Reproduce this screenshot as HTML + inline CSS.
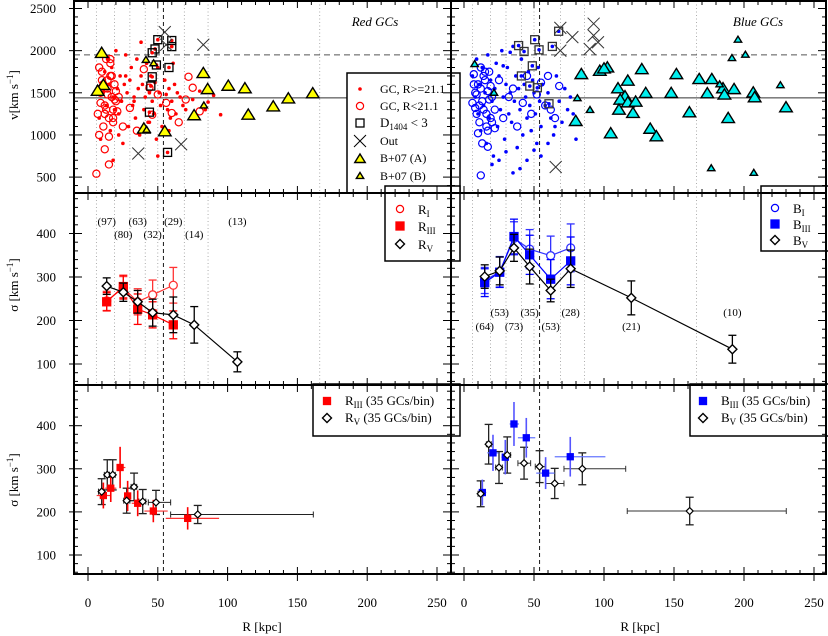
<!DOCTYPE html>
<html><head><meta charset="utf-8"><style>
html,body{margin:0;padding:0;background:#fff;}
svg{display:block;font-family:"Liberation Serif",serif;}
</style></head><body>
<svg id="chart" width="828" height="636" viewBox="0 0 828 636" xmlns="http://www.w3.org/2000/svg"></svg>
<script>
// ===== DATA =====
const binEdges=[6,19,30,41,50,69,86,166];
const vDashed=1950, vSolid=1440, rDashed=54;
// Row 1 red (R kpc, v km/s)
const redDotsR=[8,10,12,13,15,16,17,18,19,20,21,22,23,24,25,26,27,28,29,30,31,32,33,34,35,36,37,38,39,40,41,42,43,44,45,46,47,48,49,50,51,52,53,55,56,57,58,59,60,61,62,63,64,66,68,70,75,80,84,86,90,95,9,14,18,22,27,33,38,44,50,58];
const redDotsV=[1200,1500,1750,1350,1600,1050,1800,1450,1300,2000,1550,1250,1700,1400,900,1600,1950,1500,1100,1650,1800,1350,1450,1200,1900,1550,1000,1700,1600,1300,1450,1850,1150,1500,1700,1400,1250,1620,950,1800,1500,1350,1100,1650,1480,1300,1550,1200,1400,1850,1600,1250,1500,1450,1350,1300,1420,1520,1300,1390,1470,1240,950,1900,700,1000,1700,1400,2100,1150,750,1050];
const redCircR=[7,8,9,10,11,12,13,14,15,16,17,18,19,20,8,10,12,14,16,18,20,9,11,13,15,17,19,21,10,12,14,16,18,22,25,30,35,40,44,46,50,56,60,65,70,72,75,80,6,15];
const redCircV=[1250,1800,1500,1650,1100,1350,1900,1550,1200,1700,1450,1300,1600,1400,1000,1750,1250,1480,1850,1150,1520,1380,1600,1300,980,1700,1420,1280,1560,830,1650,1900,1200,1450,1100,1320,1050,1780,1560,1240,1480,1380,1260,1150,1420,1690,1560,1280,540,650];
const redSqR=[50,48,46,60,60,49,58,46,45,44,57];
const redSqV=[2130,2020,1975,2120,2048,1830,1800,1690,1580,1270,793];
const redXR=[55,82.6,36,66.7,56];
const redXV=[2220,2070,780,890,2070];
const yelAR=[9.8,11,6.9,82.6,85.7,100.5,112.4,143.5,161,132.7,114.8,76,55,40];
const yelAV=[1969,1590,1520,1730,1540,1580,1550,1430,1490,1335,1237,1230,1040,1072];
const yelBR=[41.5,47,83,42];
const yelBV=[1890,1850,1350,1060];
// Row 1 blue
const bluDotsR=[6,8,9,10,11,12,13,14,15,16,17,18,19,20,21,22,23,24,25,26,27,28,29,30,31,32,33,34,35,36,37,38,39,40,41,42,43,44,45,46,47,48,49,50,51,52,53,54,55,56,58,60,62,64,66,68,70,72,74,76,78,80,20,25,30,35,40,45,50,55,60,65,28,33];
const bluDotsV=[1700,1450,1900,1250,1600,1050,1800,1350,1500,900,1950,1200,1650,1400,750,1550,1850,1100,1700,1300,2000,1450,950,1600,1800,1250,1500,1150,2050,1400,1700,850,1550,1300,1900,1000,1600,1450,1200,1750,1350,1050,1650,1500,1250,900,1800,1400,1100,1600,1350,1500,1200,1000,1700,1400,1150,1550,1300,1450,1250,950,650,700,800,550,600,700,820,750,900,1100,1820,1980];
const bluCircR=[6,7,8,9,10,11,12,13,14,15,16,17,18,19,20,8,10,12,14,16,18,20,7,9,11,13,15,17,19,22,25,28,32,35,38,42,45,48,52,55,58,60,62,65,68,12,17,22];
const bluCircV=[1380,1720,1500,1250,1600,1150,1800,1400,1300,1650,1100,1520,1750,1200,1450,1320,1020,1550,1700,1250,1420,1150,1600,1480,1350,900,1750,1050,1580,1300,1650,1200,1450,1550,1100,1380,1700,1250,1480,1620,1350,1700,1300,1200,1580,520,860,1080];
const bluSqR=[50.5,67.6,39,42.9,53.6,63.1,48.8,41,47,52.4,60.7];
const bluSqV=[2130,2230,2060,1990,2010,2050,1820,1700,1580,1560,1370];
const bluXR=[68.8,77.4,92.6,92.6,95.7,89.8,68.8,65.5];
const bluXV=[2270,2160,2320,2180,2100,2020,2000,620];
const cyaAR=[83.8,97,102.4,100,127,151.7,168,177,110,117,115,111.6,117,122.6,129.8,148,173.8,185,192.9,186,206.6,207.6,230,110.7,120.7,161,188.7,79.8,104.8,133,137.4];
const cyaAV=[1718,1757,1797,1785,1777,1718,1659,1659,1550,1640,1455,1415,1383,1391,1494,1494,1490,1550,1540,1475,1500,1443,1324,1296,1257,1265,1197,1162,1016,1070,980];
const cyaBR=[7.6,21.4,81,90,195.7,191.4,201,182.6,226,176.6,207];
const cyaBV=[1840,1500,1435,1296,2130,1912,1952,1600,1590,605,550];
// Row 2 left
const rvR=[13.4,25.3,35.6,46.3,61.1,76.1,107];
const rvS=[279,265,243,218,213,190,105];
const rvE=[19,21,26,31,41,42,23];
const r3R=[13.4,25.3,35.6,46.3,61.1];
const r3S=[243,278,226,213,190];
const r3E=[21,26,35,30,32];
const r1R=[13.4,25.3,35.6,46.3,61.1];
const r1S=[245,275,243,259,281];
const r1E=[22,26,30,34,41];
const rCounts=["(97)","(80)","(63)","(32)","(29)","(14)","(13)"];
// Row 2 right
const bvR=[14.8,25.5,35.7,46.9,61.9,76.2,119.5,191.7];
const bvS=[301,314,367,324,269,319,252,134];
const bvE=[27,32,31,40,26,43,39,32];
const b3R=[14.8,25.5,35.7,46.9,61.9,76.2];
const b3S=[287,311,393,351,295,337];
const b3E=[32,35,40,45,45,55];
const b1R=[14.8,25.5,35.7,46.9,61.9,76.2];
const b1S=[292,312,389,364,349,367];
const b1E=[30,35,38,45,45,55];
const bCounts=["(64)","(53)","(73)","(35)","(53)","(28)","(21)","(10)"];
// Row 3 left
const q3R=[11,16.3,23,28.4,35.6,46.8,71.4];
const q3S=[238,255,303,237,220,202,185];
const q3E=[30,32,48,35,30,26,26];
const q3Lo=[6.2,12.3,20.6,25.9,31.3,40.4,55.7];
const q3Hi=[15.8,20.3,26.8,30.6,38.1,57.1,93.9];
const qvR=[9.8,13.8,17.7,27.7,33,39.2,48.7,78.6];
const qvS=[247,286,286,226,258,224,222,194];
const qvE=[30,35,35,29,32,28,28,21];
const qvLo=[7.5,11.7,15.4,25.6,30.9,36.4,43.2,59.2];
const qvHi=[11.6,15.3,19.5,30,34.9,41.4,59.2,161.4];
// Row 3 right
const p3R=[13.1,20.7,29.5,35.7,44.5,58.3,75.9];
const p3S=[245,337,327,404,372,290,328];
const p3E=[30,42,40,51,46,37,46];
const p3Lo=[10.7,16.6,26.7,32.6,38.5,51.6,64.8];
const p3Hi=[15.9,24.7,32.6,39.3,50.9,64.7,101];
const pvR=[11.9,17.6,25,30.9,42.9,54,64.8,84.5,161.2];
const pvS=[242,357,303,332,313,305,266,300,202];
const pvE=[30,46,37,42,37,37,35,37,32];
const pvLo=[10,16,22.6,29,38.5,50.9,58.3,71.4,116.6];
const pvHi=[13.6,19.5,27.4,33.3,47.6,58,71.4,115.5,230.2];

// ===== SCALES =====
const PAN=[{x0:74,x1:451,z:88,k:1.396},{x0:451,x1:826,z:464,k:1.4}];
const ROW=[{y0:1,y1:193},{y0:193,y1:385},{y0:385,y1:574}];
function xs(p,R){return PAN[p].z+R*PAN[p].k;}
function yv(v){return 8.5+(2500-v)*0.0843;}
function ys2(s){return 364-(s-100)*0.435;}
function ys3(s){return 555-(s-100)*0.431;}
const NS="http://www.w3.org/2000/svg";
const svg=document.getElementById('chart');
function mk(tag,attrs,parent){const e=document.createElementNS(NS,tag);for(const k in attrs)e.setAttribute(k,attrs[k]);(parent||svg).appendChild(e);return e;}
function grp(name){const g=mk('g',{});return g;}
function txt(g,x,y,s,size,anchor,extra){const t=mk('text',Object.assign({x:x,y:y,'font-size':size||13,'text-anchor':anchor||'middle',fill:'#000'},extra||{}),g);t.textContent=s;return t;}

// clip paths
const defs=mk('defs',{});
for(let p=0;p<2;p++)for(let r=0;r<3;r++){const c=mk('clipPath',{id:'c'+p+r},defs);mk('rect',{x:PAN[p].x0,y:ROW[r].y0,width:PAN[p].x1-PAN[p].x0,height:ROW[r].y1-ROW[r].y0},c);}

// symbols
function dot(g,x,y,c){mk('circle',{cx:x,cy:y,r:1.8,fill:c},g);}
function ocirc(g,x,y,c){mk('circle',{cx:x,cy:y,r:3.6,fill:'none',stroke:c,'stroke-width':1.2},g);}
function sq(g,x,y,fill,st,s){s=s||4;mk('rect',{x:x-s,y:y-s,width:2*s,height:2*s,fill:fill,stroke:st,'stroke-width':1.3},g);}
function xm(g,x,y,c){mk('path',{d:`M${x-6},${y-6}L${x+6},${y+6}M${x+6},${y-6}L${x-6},${y+6}`,stroke:c||'#333','stroke-width':1},g);}
function tri(g,x,y,fill,s){mk('path',{d:`M${x},${y-s}L${x+s*1.05},${y+s*0.7}L${x-s*1.05},${y+s*0.7}Z`,fill:fill,stroke:'#000','stroke-width':1.4},g);}
function dia(g,x,y){mk('path',{d:`M${x},${y-4.5}L${x+4.5},${y}L${x},${y+4.5}L${x-4.5},${y}Z`,fill:'#fff',stroke:'#000','stroke-width':1.4},g);}
function errV(g,x,y1,y2,c,w){mk('line',{x1:x,y1:y1,x2:x,y2:y2,stroke:c,'stroke-width':w||1.3},g);mk('line',{x1:x-4,y1:y1,x2:x+4,y2:y1,stroke:c,'stroke-width':w||1.3},g);mk('line',{x1:x-4,y1:y2,x2:x+4,y2:y2,stroke:c,'stroke-width':w||1.3},g);}
function errH(g,x1,x2,y,c){mk('line',{x1:x1,y1:y,x2:x2,y2:y,stroke:c,'stroke-width':1},g);mk('line',{x1:x1,y1:y-3,x2:x1,y2:y+3,stroke:c,'stroke-width':1},g);mk('line',{x1:x2,y1:y-3,x2:x2,y2:y+3,stroke:c,'stroke-width':1},g);}

// ===== GRID LINES rows 1-2 =====
for(let p=0;p<2;p++){
  const g=grp(p?'blue-bin-edges':'red-bin-edges');
  for(let r=0;r<2;r++){
    binEdges.forEach(b=>{const x=xs(p,b);mk('line',{x1:x,y1:ROW[r].y0,x2:x,y2:ROW[r].y1,stroke:'#999','stroke-width':0.8,'stroke-dasharray':'1,2.5'},g);});
  }
  for(let r=0;r<3;r++){const x=xs(p,rDashed);mk('line',{x1:x,y1:ROW[r].y0,x2:x,y2:ROW[r].y1,stroke:'#000','stroke-width':0.9,'stroke-dasharray':'4,3'},g);}
  mk('line',{x1:PAN[p].x0,y1:yv(vDashed),x2:PAN[p].x1,y2:yv(vDashed),stroke:'#555','stroke-width':1,'stroke-dasharray':'6,4'},g);
  mk('line',{x1:PAN[p].x0,y1:yv(vSolid),x2:PAN[p].x1,y2:yv(vSolid),stroke:'#333','stroke-width':1},g);
}

// ===== ROW 1 =====
{
  const g=grp('red-velocity-scatter');g.setAttribute('clip-path','url(#c00)');
  redCircR.forEach((R,i)=>ocirc(g,xs(0,R),yv(redCircV[i]),'#f00'));
  redDotsR.forEach((R,i)=>dot(g,xs(0,R),yv(redDotsV[i]),'#f00'));
  redSqR.forEach((R,i)=>{sq(g,xs(0,R),yv(redSqV[i]),'none','#000');dot(g,xs(0,R),yv(redSqV[i]),'#f00');});
  redXR.forEach((R,i)=>xm(g,xs(0,R),yv(redXV[i])));
  yelAR.forEach((R,i)=>tri(g,xs(0,R),yv(yelAV[i]),'#ff0',6));
  yelBR.forEach((R,i)=>tri(g,xs(0,R),yv(yelBV[i]),'#ff0',3.5));
  const b=grp('blue-velocity-scatter');b.setAttribute('clip-path','url(#c10)');
  bluCircR.forEach((R,i)=>ocirc(b,xs(1,R),yv(bluCircV[i]),'#00f'));
  bluDotsR.forEach((R,i)=>dot(b,xs(1,R),yv(bluDotsV[i]),'#00f'));
  bluSqR.forEach((R,i)=>{sq(b,xs(1,R),yv(bluSqV[i]),'none','#333');dot(b,xs(1,R),yv(bluSqV[i]),'#00f');});
  bluXR.forEach((R,i)=>xm(b,xs(1,R),yv(bluXV[i])));
  cyaAR.forEach((R,i)=>tri(b,xs(1,R),yv(cyaAV[i]),'#0ee',6));
  cyaBR.forEach((R,i)=>tri(b,xs(1,R),yv(cyaBV[i]),'#0ee',3.5));
  const t1=txt(svg,375,26,'Red GCs',13,'middle',{'font-style':'italic'});
  const t2=txt(svg,758,26,'Blue GCs',13,'middle',{'font-style':'italic'});
}

// ===== ROW 2 =====
function series(g,p,yf,Rs,Ss,Es,c,kind,line){
  if(line){let d='';Rs.forEach((R,i)=>{d+=(i?'L':'M')+xs(p,R)+','+yf(Ss[i]);});mk('path',{d:d,fill:'none',stroke:c,'stroke-width':1.2},g);}
  Rs.forEach((R,i)=>{const x=xs(p,R);errV(g,x,yf(Ss[i]+Es[i]),yf(Ss[i]-Es[i]),c);});
  Rs.forEach((R,i)=>{const x=xs(p,R),y=yf(Ss[i]);
    if(kind==='sq')sq(g,x,y,c,c,4);else if(kind==='circ'){mk('circle',{cx:x,cy:y,r:4,fill:'#fff',stroke:c,'stroke-width':1.3},g);}else dia(g,x,y);});
}
{
  const g=grp('red-dispersion-profile');
  series(g,0,ys2,r1R,r1S,r1E,'#f33','circ',true);
  series(g,0,ys2,r3R,r3S,r3E,'#f00','sq',true);
  series(g,0,ys2,rvR,rvS,rvE,'#000','dia',true);
  rvR.forEach((R,i)=>{const t=txt(g,xs(0,R),i%2?238:225,rCounts[i],11);});
  const b=grp('blue-dispersion-profile');
  series(b,1,ys2,b1R,b1S,b1E,'#33f','circ',true);
  series(b,1,ys2,b3R,b3S,b3E,'#00f','sq',true);
  series(b,1,ys2,bvR,bvS,bvE,'#000','dia',true);
  bvR.forEach((R,i)=>{txt(b,xs(1,R),(i===1||i===3||i===5||i===7)?316:330,bCounts[i],11);});
}

// ===== ROW 3 =====
{
  const g=grp('red-binned-dispersion');
  qvR.forEach((R,i)=>{errH(g,xs(0,qvLo[i]),xs(0,qvHi[i]),ys3(qvS[i]),'#222');errV(g,xs(0,R),ys3(qvS[i]+qvE[i]),ys3(qvS[i]-qvE[i]),'#222');});
  q3R.forEach((R,i)=>{mk('line',{x1:xs(0,q3Lo[i]),y1:ys3(q3S[i]),x2:xs(0,q3Hi[i]),y2:ys3(q3S[i]),stroke:'#f33','stroke-width':1.2},g);mk('line',{x1:xs(0,R),y1:ys3(q3S[i]+q3E[i]),x2:xs(0,R),y2:ys3(q3S[i]-q3E[i]),stroke:'#f00','stroke-width':1.6},g);});
  q3R.forEach((R,i)=>sq(g,xs(0,R),ys3(q3S[i]),'#f00','#f00',3));
  qvR.forEach((R,i)=>{const x=xs(0,R),y=ys3(qvS[i]);mk('path',{d:`M${x},${y-3.5}L${x+3.5},${y}L${x},${y+3.5}L${x-3.5},${y}Z`,fill:'#fff',stroke:'#000','stroke-width':1.2},g);});
  const b=grp('blue-binned-dispersion');
  pvR.forEach((R,i)=>{errH(b,xs(1,pvLo[i]),xs(1,pvHi[i]),ys3(pvS[i]),'#333');errV(b,xs(1,R),ys3(pvS[i]+pvE[i]),ys3(pvS[i]-pvE[i]),'#222');});
  p3R.forEach((R,i)=>{mk('line',{x1:xs(1,p3Lo[i]),y1:ys3(p3S[i]),x2:xs(1,p3Hi[i]),y2:ys3(p3S[i]),stroke:'#67f','stroke-width':1.2},b);mk('line',{x1:xs(1,R),y1:ys3(p3S[i]+p3E[i]),x2:xs(1,R),y2:ys3(p3S[i]-p3E[i]),stroke:'#55f','stroke-width':1.6},b);});
  p3R.forEach((R,i)=>sq(b,xs(1,R),ys3(p3S[i]),'#00f','#00f',3));
  pvR.forEach((R,i)=>{const x=xs(1,R),y=ys3(pvS[i]);mk('path',{d:`M${x},${y-3.5}L${x+3.5},${y}L${x},${y+3.5}L${x-3.5},${y}Z`,fill:'#fff',stroke:'#000','stroke-width':1.2},b);});
}

// ===== LEGENDS =====
function legBox(name,x0,y0,x1,y1){const g=grp(name);mk('rect',{x:x0,y:y0,width:x1-x0,height:y1-y0,fill:'#fff',stroke:'#000','stroke-width':1.5},g);return g;}
function sub(g,x,y,main,subs,rest){const t=mk('text',{x:x,y:y,'font-size':13,fill:'#000'},g);t.appendChild(document.createTextNode(main));const s=mk('tspan',{'font-size':9,dy:3},t);s.textContent=subs;if(rest){const r=mk('tspan',{dy:-3},t);r.textContent=rest;}return t;}
{
  const g=legBox('velocity-legend',347,73,460,193);
  dot(g,360,89,'#f00');txt(g,380,93,'GC, R>=21.1',12,'start');
  ocirc(g,360,106,'#f00');txt(g,380,110,'GC, R<21.1',12,'start');
  sq(g,360,123,'none','#000');sub(g,380,127,'D','1404',' < 3');
  xm(g,360,141,'#000');txt(g,380,145,'Out',12,'start');
  tri(g,360,159,'#ff0',5);txt(g,380,162,'B+07 (A)',12,'start');
  tri(g,360,176,'#ff0',3.5);txt(g,380,180,'B+07 (B)',12,'start');
  const l2=legBox('red-sigma-legend',385,186,460,261);
  ocirc(l2,400,209,'#f00');sub(l2,418,214,'R','I');
  sq(l2,400,226,'#f00','#f00',4);sub(l2,418,231,'R','III');
  dia(l2,400,244);sub(l2,418,249,'R','V');
  const l3=legBox('blue-sigma-legend',761,186,830,251);
  ocirc(l3,775,208,'#00f');sub(l3,793,213,'B','I');
  sq(l3,775,224,'#00f','#00f',4);sub(l3,793,229,'B','III');
  dia(l3,775,240);sub(l3,793,245,'B','V');
  const l4=legBox('red-binned-legend',313,384,460,436);
  sq(l4,327,401,'#f00','#f00',3.5);sub(l4,345,405,'R','III',' (35 GCs/bin)');
  dia(l4,327,418);sub(l4,345,422,'R','V',' (35 GCs/bin)');
  const l5=legBox('blue-binned-legend',690,384,830,436);
  sq(l5,703,401,'#00f','#00f',3.5);sub(l5,721,405,'B','III',' (35 GCs/bin)');
  dia(l5,703,418);sub(l5,721,422,'B','V',' (35 GCs/bin)');
}

// ===== AXES / FRAMES =====
{
  const g=grp('axes');
  for(let p=0;p<2;p++){
    for(let r=0;r<3;r++){
      const X0=PAN[p].x0,X1=PAN[p].x1,Y0=ROW[r].y0,Y1=ROW[r].y1;
      // x ticks
      for(let R=-10;R<=260;R+=10){const x=xs(p,R);if(x<X0+1||x>X1-1)continue;const L=R%50===0?7:4;
        mk('line',{x1:x,y1:Y1,x2:x,y2:Y1-L,stroke:'#000','stroke-width':1},g);
        mk('line',{x1:x,y1:Y0,x2:x,y2:Y0+L,stroke:'#000','stroke-width':1},g);}
      // y ticks
      let ticks=[];
      if(r===0){for(let v=400;v<=2600;v+=100)ticks.push([yv(v),v%500===0,v]);}
      else{const f=r===1?ys2:ys3;for(let s=60;s<=500;s+=20)ticks.push([f(s),s%100===0,s]);}
      ticks.forEach(t=>{if(t[0]<Y0+1||t[0]>Y1-1)return;const L=t[1]?8:4;
        mk('line',{x1:X0,y1:t[0],x2:X0+L,y2:t[0],stroke:'#000','stroke-width':1},g);
        mk('line',{x1:X1,y1:t[0],x2:X1-L,y2:t[0],stroke:'#000','stroke-width':1},g);
        if(p===0&&t[1]){mk('line',{x1:X0,y1:t[0],x2:X0-5,y2:t[0],stroke:'#000','stroke-width':1},g);txt(g,56,t[0]+4.5,String(t[2]),13,'end');}
      });
      mk('rect',{x:X0,y:Y0,width:X1-X0,height:Y1-Y0,fill:'none',stroke:'#000','stroke-width':2},g);
    }
    for(let R=0;R<=250;R+=50){mk('line',{x1:xs(p,R),y1:574,x2:xs(p,R),y2:581,stroke:'#000','stroke-width':1},g);txt(g,xs(p,R),607,String(R),13);}
    const xl=txt(g,p?640:262,631,'R [kpc]',13);
  }
  const a=txt(g,0,0,'',13,'middle',{transform:'translate(18,95) rotate(-90)'});a.textContent='v[km s';const s1=mk('tspan',{dy:-5,'font-size':9},a);s1.textContent='−1';const s2=mk('tspan',{dy:5},a);s2.textContent=']';
  [285,480].forEach(yc=>{const b=txt(g,0,0,'',13,'middle',{transform:`translate(18,${yc}) rotate(-90)`});b.textContent='σ [km s';const u=mk('tspan',{dy:-5,'font-size':9},b);u.textContent='−1';const w=mk('tspan',{dy:5},b);w.textContent=']';});
}
</script>
</body></html>
